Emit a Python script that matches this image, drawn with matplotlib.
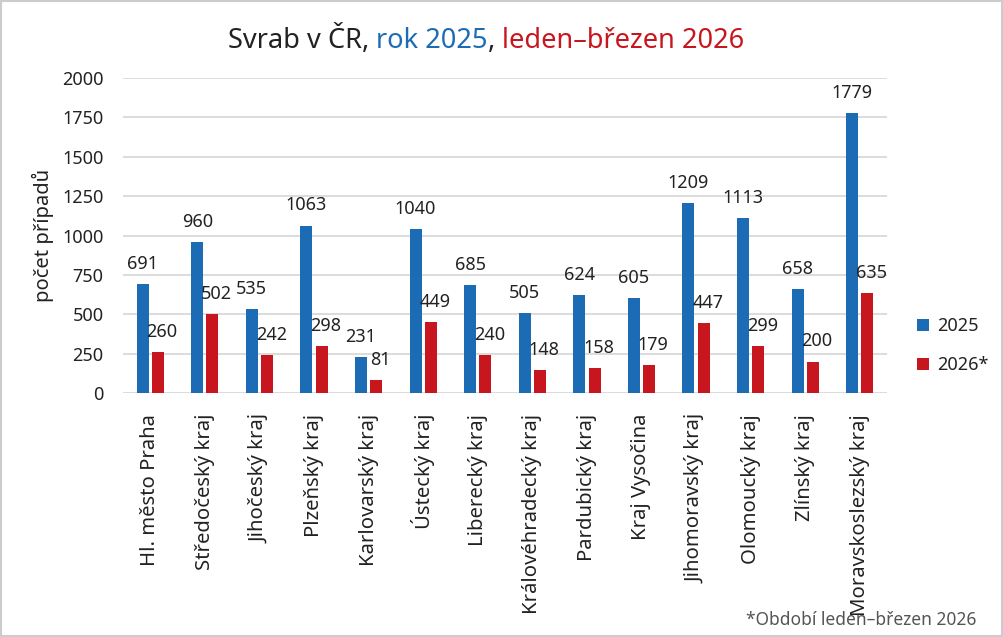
import numpy as np
import matplotlib
matplotlib.use("Agg")
import matplotlib.pyplot as plt
from matplotlib.patches import Rectangle

kraje = ["Hl. město Praha", "Středočeský kraj", "Jihočeský kraj", "Plzeňský kraj",
         "Karlovarský kraj", "Ústecký kraj", "Liberecký kraj", "Královéhradecký kraj",
         "Pardubický kraj", "Kraj Vysočina", "Jihomoravský kraj", "Olomoucký kraj",
         "Zlínský kraj", "Moravskoslezský kraj"]
pripady_2025 = [691, 960, 535, 1063, 231, 1040, 685, 505, 624, 605, 1209, 1113, 658, 1779]
pripady_2026 = [260, 502, 242, 298, 81, 449, 240, 148, 158, 179, 447, 299, 200, 635]
y_ticks = [0, 250, 500, 750, 1000, 1250, 1500, 1750, 2000]

modra = "#1b6cb5"
cervena = "#c8161e"
seda_mrizka = "#d9d9d9"
text_barva = "#222222"

plt.rcParams['font.family'] = ['Noto Sans', 'DejaVu Sans']

fig = plt.figure(figsize=(10.04, 6.37), dpi=100)
ax = fig.add_axes([0.1225, 0.383, 0.761, 0.4945])

x = np.arange(len(kraje))
w = 0.22
off = 0.14
b1 = ax.bar(x - off, pripady_2025, w, color=modra, label="2025", zorder=3)
b2 = ax.bar(x + off, pripady_2026, w, color=cervena, label="2026*", zorder=3)

# popisky hodnot nad sloupci
for rect, v in zip(b1, pripady_2025):
    ax.annotate(str(v), (rect.get_x() + rect.get_width() / 2, v), xytext=(0, 8),
                textcoords="offset points", ha="center", va="bottom", fontsize=13, color=text_barva)
for rect, v in zip(b2, pripady_2026):
    ax.annotate(str(v), (rect.get_x() + rect.get_width() / 2, v), xytext=(3, 8),
                textcoords="offset points", ha="center", va="bottom", fontsize=13, color=text_barva)

ax.set_xlim(-0.5, len(kraje) - 0.5)
ax.set_ylim(0, 2000)
ax.set_yticks(y_ticks)
ax.set_yticklabels([str(t) for t in y_ticks], fontsize=13, color=text_barva)
ax.set_xticks(x)
ax.set_xticklabels(kraje, rotation=90, fontsize=14.6, color=text_barva)
ax.tick_params(axis="both", length=0)
ax.tick_params(axis="x", pad=15)
ax.tick_params(axis="y", pad=14)
ax.grid(axis="y", color=seda_mrizka, linewidth=1.3, zorder=0)
for s in ["top", "right", "left", "bottom"]:
    ax.spines[s].set_visible(False)
ax.set_ylabel("počet případů", fontsize=14.5, color=text_barva, labelpad=6)

leg = ax.legend(loc="center left", bbox_to_anchor=(1.018, 0.15), frameon=False,
                fontsize=13, handlelength=0.65, handleheight=0.65, handletextpad=0.45,
                labelspacing=1.15)
for t in leg.get_texts():
    t.set_color(text_barva)

# nadpis z vícebarevných částí
casti = [("Svrab v ČR, ", text_barva), ("rok 2025", modra), (", ", text_barva),
         ("leden–březen 2026", cervena)]
prev = fig.text(0.227, 0.925, casti[0][0], fontsize=19.6, color=casti[0][1], va="baseline")
for txt, col in casti[1:]:
    prev = ax.annotate(txt, xy=(1, 0), xycoords=prev, fontsize=19.6, color=col,
                       va="bottom", annotation_clip=False)

fig.text(0.972, 0.012, "*Období leden–březen 2026", ha="right", va="bottom",
         fontsize=12.5, color="#555555")

fig.patches.append(Rectangle((0.001, 0.002), 0.997, 0.996, transform=fig.transFigure,
                             fill=False, edgecolor="#cccccc", linewidth=1.5))

fig.savefig("out.png", dpi=100)
